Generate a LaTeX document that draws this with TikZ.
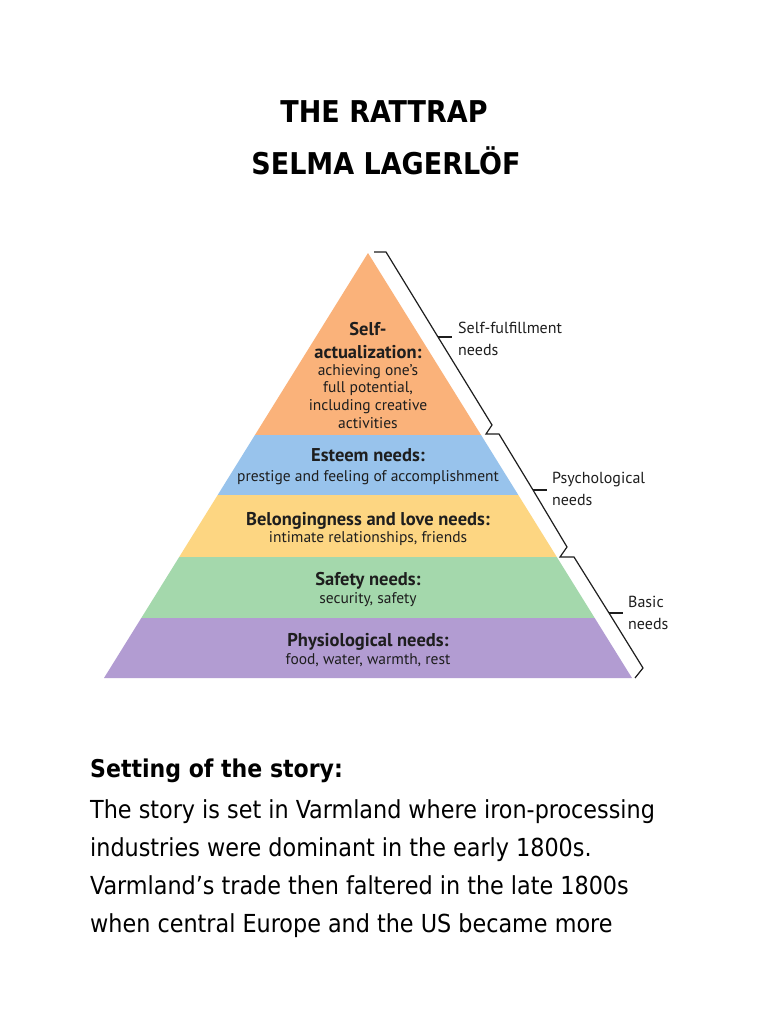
\documentclass[tikz,border=0pt]{standalone}
\usepackage{fontspec}
\setmainfont{DejaVu Sans Condensed}
\newfontfamily\pyrfont{PT Sans}
\definecolor{cOrange}{RGB}{250,178,122}
\definecolor{cBlue}{RGB}{152,195,236}
\definecolor{cYellow}{RGB}{253,214,130}
\definecolor{cGreen}{RGB}{164,216,172}
\definecolor{cPurple}{RGB}{178,156,210}
\definecolor{cInk}{RGB}{30,30,30}
\begin{document}
\begin{tikzpicture}[x=1pt,y=-1pt,
  titletext/.style={font=\bfseries\fontsize{30}{35}\selectfont, anchor=base, inner sep=0pt},
  headtext/.style={font=\bfseries\fontsize{24.5}{30}\selectfont, anchor=base west, inner sep=0pt},
  bodytext/.style={font=\fontsize{24.8}{30}\selectfont, anchor=base west, inner sep=0pt},
  pbold/.style={font=\pyrfont\bfseries\fontsize{18.5}{21}\selectfont, anchor=base, inner sep=0pt, text=cInk},
  preg/.style={font=\pyrfont\fontsize{15.5}{18}\selectfont, anchor=base, inner sep=0pt, text=cInk},
  blabel/.style={font=\pyrfont\fontsize{16}{19}\selectfont, anchor=base west, inner sep=0pt, text=cInk},
  bracketline/.style={draw=cInk, line width=1.2pt, line join=miter}]
\useasboundingbox (0,0) rectangle (768,1024);
\fill[white] (0,0) rectangle (768,1024);

% title
\node[titletext] (t1) at (384,123) {THE RATTRAP};
\node[titletext] (t2) at (386,175) {SELMA LAGERLÖF};

% pyramid corners
\coordinate (apex) at (368,253);
\coordinate (l1) at (254.95,435); \coordinate (r1) at (481.05,435);
\coordinate (l2) at (217.7,495);  \coordinate (r2) at (518.3,495);
\coordinate (l3) at (179.2,557);  \coordinate (r3) at (556.8,557);
\coordinate (l4) at (141.3,618);  \coordinate (r4) at (594.7,618);
\coordinate (l5) at (104,678);    \coordinate (r5) at (632,678);

\fill[cOrange] (apex) -- (r1) -- (l1) -- cycle;
\fill[cBlue] (l1) -- (r1) -- (r2) -- (l2) -- cycle;
\fill[cYellow] (l2) -- (r2) -- (r3) -- (l3) -- cycle;
\fill[cGreen] (l3) -- (r3) -- (r4) -- (l4) -- cycle;
\fill[cPurple] (l4) -- (r4) -- (r5) -- (l5) -- cycle;

% pyramid texts
\node[pbold] (sa1) at (368,335) {Self-};
\node[pbold] (sa2) at (368,358) {actualization:};
\node[preg] (sa3) at (368,375) {achieving one’s};
\node[preg] (sa4) at (368,392) {full potential,};
\node[preg] (sa5) at (368,410) {including creative};
\node[preg] (sa6) at (368,428) {activities};
\node[pbold] (es1) at (368,461) {Esteem needs:};
\node[preg] (es2) at (368,481) {prestige and feeling of accomplishment};
\node[pbold] (be1) at (368,525) {Belongingness and love needs:};
\node[preg] (be2) at (368,542) {intimate relationships, friends};
\node[pbold] (sf1) at (368,585) {Safety needs:};
\node[preg] (sf2) at (368,603) {security, safety};
\node[pbold] (ph1) at (368,646) {Physiological needs:};
\node[preg] (ph2) at (368,664) {food, water, warmth, rest};

% brackets
\coordinate (a1) at (374,252); \coordinate (b1) at (386,252);
\coordinate (m1) at (438,337); \coordinate (k1) at (452,337);
\coordinate (c1) at (492,425); \coordinate (d1) at (486,434);
\coordinate (b2) at (499,434);
\coordinate (m2) at (533,490); \coordinate (k2) at (547,490);
\coordinate (c2) at (567,547); \coordinate (d2) at (560,557);
\coordinate (b3) at (574,557);
\coordinate (m3) at (609,613); \coordinate (k3) at (623,613);
\coordinate (c3) at (643,668); \coordinate (d3) at (635,678);

\draw[bracketline] (a1) -- (b1) -- (m1) -- (c1) -- (d1) -- (b2) -- (m2) -- (c2) -- (d2) -- (b3) -- (m3) -- (c3) -- (d3);
\draw[bracketline] (m1) -- (k1);
\draw[bracketline] (m2) -- (k2);
\draw[bracketline] (m3) -- (k3);

\node[blabel] (lb1a) at (458,333) {Self-fulfillment};
\node[blabel] (lb1b) at (458,355) {needs};
\node[blabel] (lb2a) at (552,483) {Psychological};
\node[blabel] (lb2b) at (552,505) {needs};
\node[blabel] (lb3a) at (628,607) {Basic};
\node[blabel] (lb3b) at (628,629) {needs};

% text below
\node[headtext] (h1) at (90,777) {Setting of the story:};
\node[bodytext] (p1) at (90,818) {The story is set in Varmland where iron-processing};
\node[bodytext] (p2) at (90,856) {industries were dominant in the early 1800s.};
\node[bodytext] (p3) at (90,894) {Varmland’s trade then faltered in the late 1800s};
\node[bodytext] (p4) at (90,932) {when central Europe and the US became more};
\end{tikzpicture}
\end{document}
